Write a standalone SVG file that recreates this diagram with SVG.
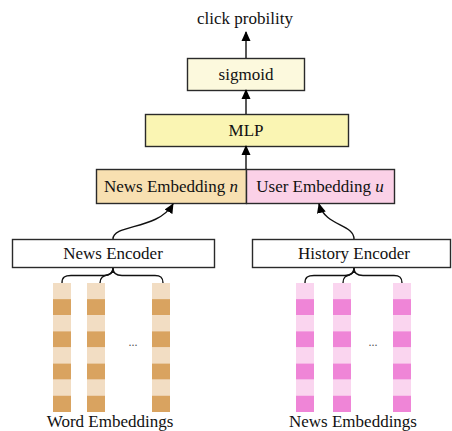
<svg xmlns="http://www.w3.org/2000/svg" width="452" height="431" viewBox="0 0 452 431">
<style>
text{font-family:'Liberation Serif','Times New Roman','DejaVu Serif',serif;font-size:17px;fill:#111;text-anchor:middle}
.box{stroke:#2a2a2a;stroke-width:1.4}
.con{fill:none;stroke:#111;stroke-width:1.4}
.wl{fill:#f2ddc3}.wd{fill:#d9a360}
.pl{fill:#fad5ef}.pd{fill:#ef85d7}
.dots{font-size:12px;fill:#555}
</style>
<defs>
<marker id="ah" viewBox="0 0 10 10" refX="9" refY="5" markerWidth="10" markerHeight="10" markerUnits="userSpaceOnUse" orient="auto">
<path d="M0,0.5 L10,5 L0,9.5 z" fill="#000"/>
</marker>
<g id="wcol">
<rect class="wl" x="0" y="0" width="18" height="16.2"/>
<rect class="wd" x="0" y="16.1" width="18" height="16.2"/>
<rect class="wl" x="0" y="32.2" width="18" height="16.2"/>
<rect class="wd" x="0" y="48.3" width="18" height="16.2"/>
<rect class="wl" x="0" y="64.4" width="18" height="16.2"/>
<rect class="wd" x="0" y="80.5" width="18" height="16.2"/>
<rect class="wl" x="0" y="96.6" width="18" height="16.2"/>
<rect class="wd" x="0" y="112.7" width="18" height="16.3"/>
</g>
<g id="pcol">
<rect class="pl" x="0" y="0" width="18" height="16.2"/>
<rect class="pd" x="0" y="16.1" width="18" height="16.2"/>
<rect class="pl" x="0" y="32.2" width="18" height="16.2"/>
<rect class="pd" x="0" y="48.3" width="18" height="16.2"/>
<rect class="pl" x="0" y="64.4" width="18" height="16.2"/>
<rect class="pd" x="0" y="80.5" width="18" height="16.2"/>
<rect class="pl" x="0" y="96.6" width="18" height="16.2"/>
<rect class="pd" x="0" y="112.7" width="18" height="16.3"/>
</g>
</defs>

<text id="output" x="245" y="24" font-family="Liberation Serif, serif">click probility</text>

<g id="sigmoid">
<rect class="box" x="187.5" y="58.5" width="117" height="32" fill="#fcf9dd"/>
<text x="246" y="80" font-family="Liberation Serif, serif">sigmoid</text>
</g>

<g id="mlp">
<rect class="box" x="145.5" y="114.5" width="203" height="32" fill="#faf5b3"/>
<text x="246" y="136" font-family="Liberation Serif, serif">MLP</text>
</g>

<g id="news-embedding">
<rect class="box" x="96.5" y="169.5" width="150" height="34" fill="#f8e0b1"/>
<text x="171" y="192" font-family="Liberation Serif, serif">News Embedding <tspan font-style="italic">n</tspan></text>
</g>

<g id="user-embedding">
<rect class="box" x="246.5" y="169.5" width="148" height="34" fill="#fbd1e7"/>
<text x="320" y="192" font-family="Liberation Serif, serif">User Embedding <tspan font-style="italic">u</tspan></text>
</g>

<g id="news-encoder">
<rect class="box" x="12.5" y="239.5" width="202" height="28" fill="#fff"/>
<text x="113" y="259" font-family="Liberation Serif, serif">News Encoder</text>
</g>

<g id="history-encoder">
<rect class="box" x="252.5" y="239.5" width="198" height="28" fill="#fff"/>
<text x="354" y="259" font-family="Liberation Serif, serif">History Encoder</text>
</g>

<g id="word-embeddings">
<use href="#wcol" x="53" y="283"/>
<use href="#wcol" x="87" y="283"/>
<use href="#wcol" x="152" y="283"/>
<text class="dots" x="133" y="346" font-family="Liberation Serif, serif">...</text>
<text x="110" y="427" font-family="Liberation Serif, serif">Word Embeddings</text>
</g>

<g id="news-embeddings">
<use href="#pcol" x="296" y="283"/>
<use href="#pcol" x="333" y="283"/>
<use href="#pcol" x="393" y="283"/>
<text class="dots" x="373" y="346" font-family="Liberation Serif, serif">...</text>
<text x="353" y="427" font-family="Liberation Serif, serif">News Embeddings</text>
</g>

<g id="connectors">
<line class="con" x1="246" y1="58" x2="246" y2="32" marker-end="url(#ah)"/>
<line class="con" x1="246" y1="114" x2="246" y2="90" marker-end="url(#ah)"/>
<line class="con" x1="246" y1="169" x2="246" y2="146" marker-end="url(#ah)"/>
<path class="con" d="M113,239 C113,224 158,230 173,204" marker-end="url(#ah)"/>
<path class="con" d="M354,239 C354,224 325,226 319,204" marker-end="url(#ah)"/>
<path class="con" d="M62,283 C62,277 65,275.5 71,275.5 L104,275.5 C110,275.5 113,273 113,268 C113,273 116,275.5 122,275.5 L155,275.5 C160,275.5 163,277 163,283"/>
<path class="con" d="M100,283 C100,277 104,276 107,275 C111,274 113,271 113,268"/>
<path class="con" d="M305,283 C305,277 308,275.5 314,275.5 L345,275.5 C351,275.5 354,273 354,268 C354,273 357,275.5 363,275.5 L394,275.5 C399,275.5 402,277 402,283"/>
<path class="con" d="M343,283 C343,277 346,276 349,275 C352,274 354,271 354,268"/>
</g>
</svg>
